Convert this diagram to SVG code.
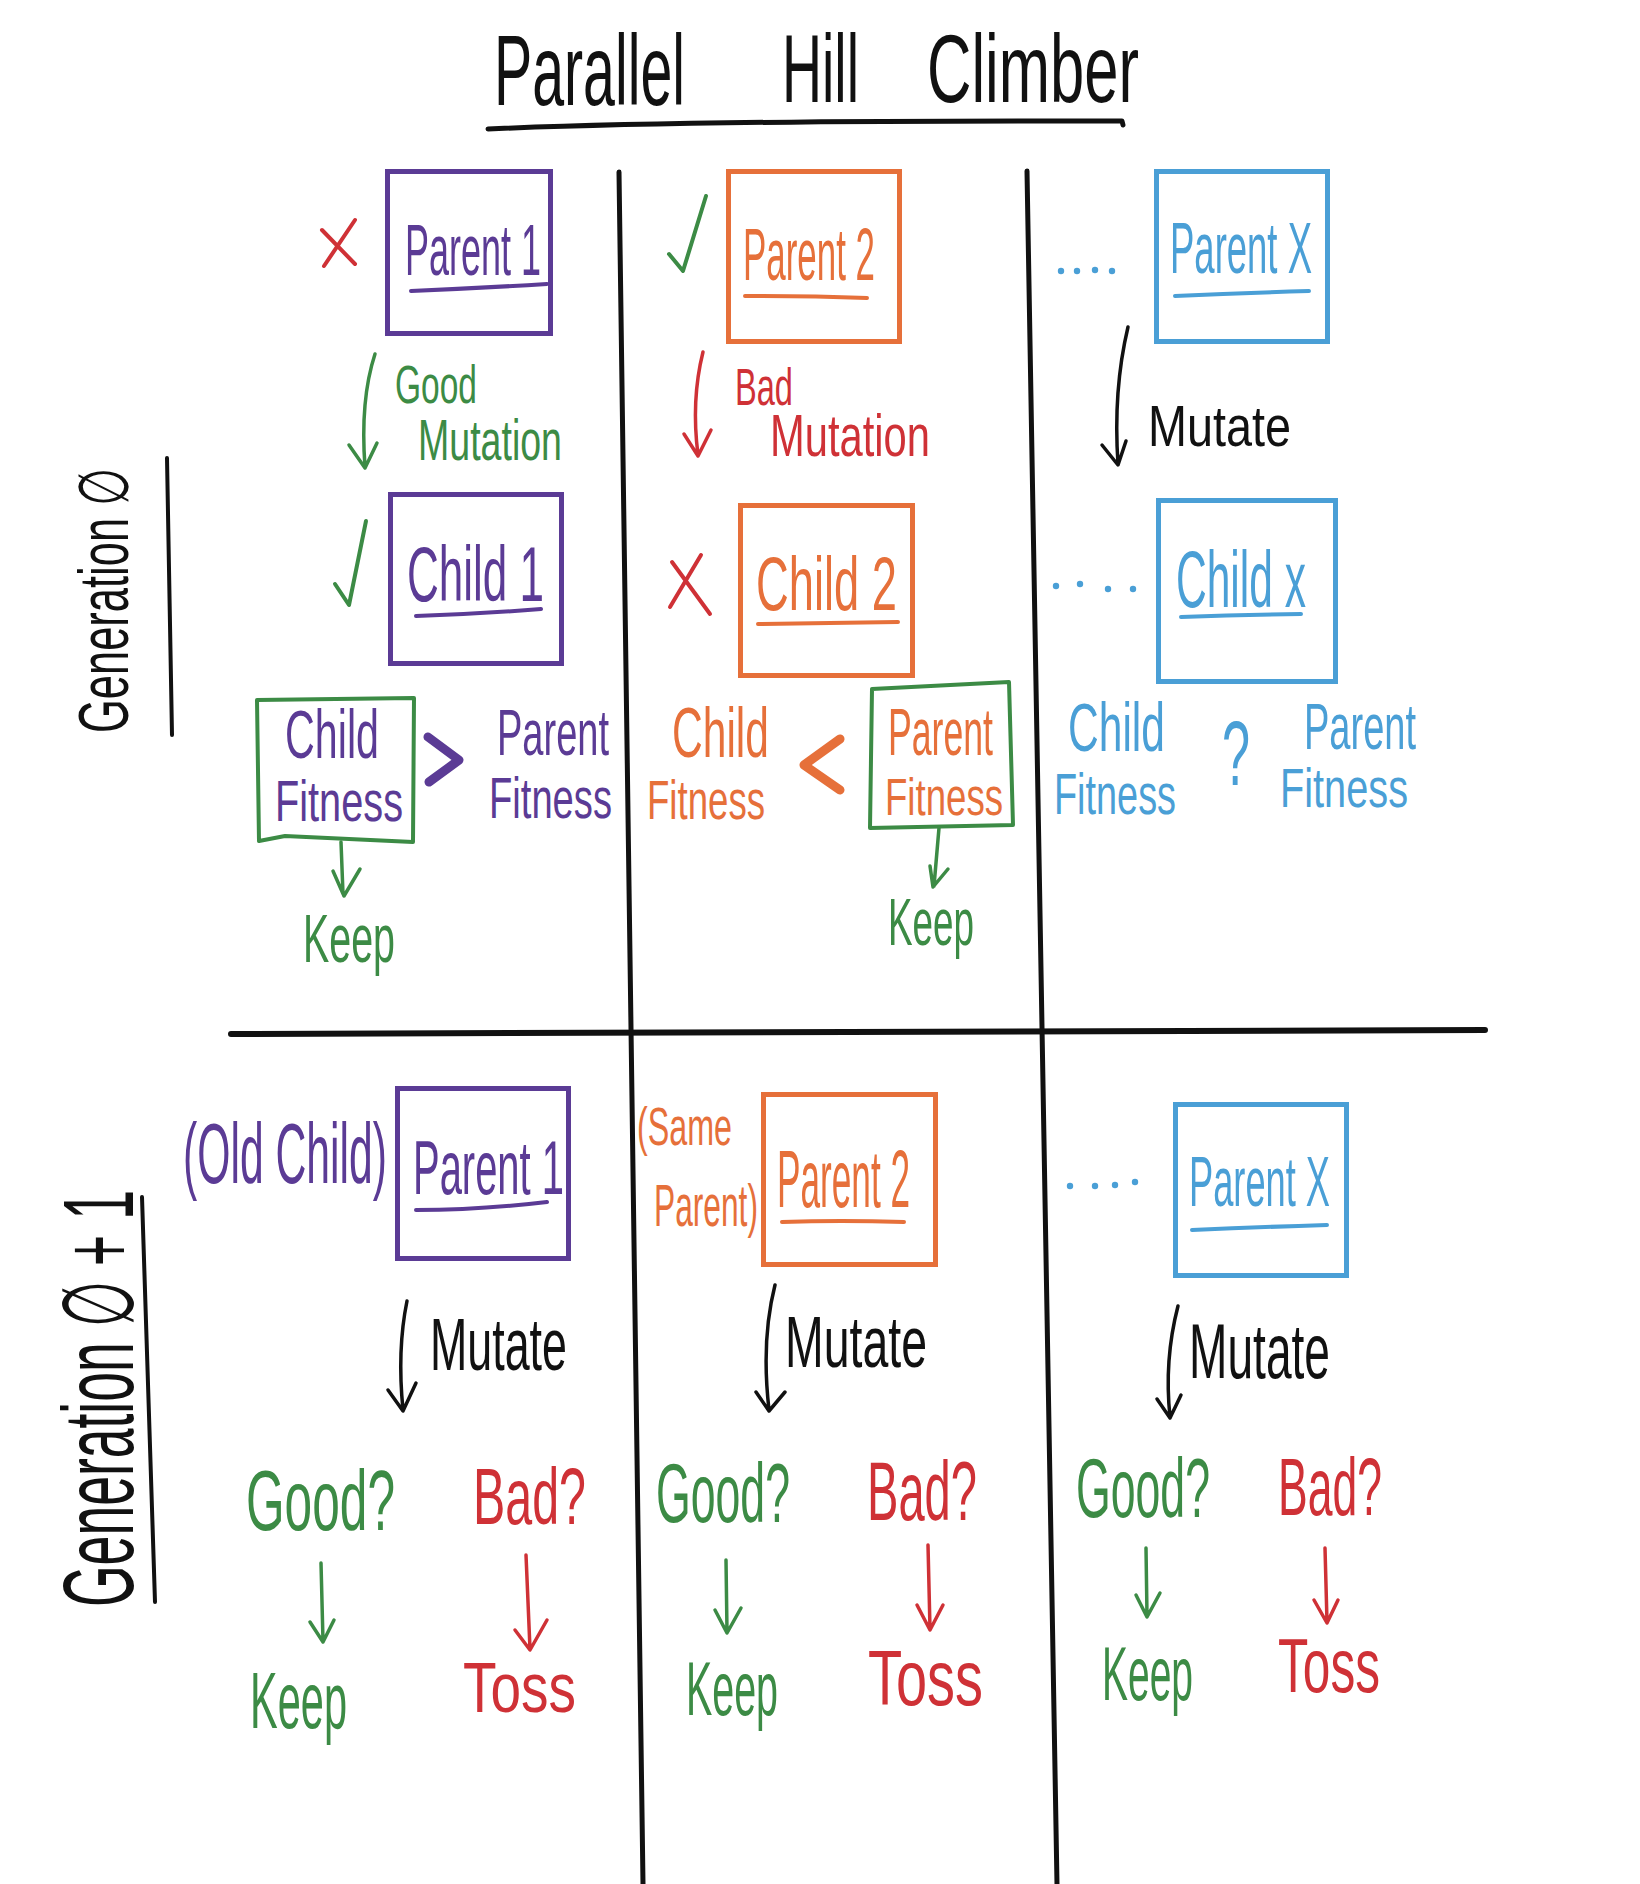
<svg xmlns="http://www.w3.org/2000/svg" width="1640" height="1884" viewBox="0 0 1640 1884">
<defs>
<style>
text{font-family:"Liberation Sans","DejaVu Sans",sans-serif;}
.pu{fill:#5b3b95}.or{fill:#e6703a}.bl{fill:#4a9fd6}.gr{fill:#3c8b45}.rd{fill:#cf3136}.bk{fill:#111}
.box{fill:none;stroke-width:5}
.spu{stroke:#5b3b95}.sor{stroke:#e6703a}.sbl{stroke:#4a9fd6}.sgr{stroke:#3c8b45}.srd{stroke:#cf3136}.sbk{stroke:#111}
.ln{fill:none;stroke-linecap:round;stroke-linejoin:round}
.ul{fill:none;stroke-width:4;stroke-linecap:round}
.arr{fill:none;stroke-width:3.5;stroke-linecap:round;stroke-linejoin:round}
</style>
</defs>
<rect width="1640" height="1884" fill="#fff"/>

<g id="title">
<text x="494" y="105" font-size="57.3" textLength="191" lengthAdjust="spacingAndGlyphs" transform="matrix(1 0 0 1.745 0 -78.2)" class="bk">Parallel</text>
<text x="782" y="102" font-size="55.5" textLength="77" lengthAdjust="spacingAndGlyphs" transform="matrix(1 0 0 1.730 0 -74.5)" class="bk">Hill</text>
<text x="927" y="102" font-size="61.6" textLength="212" lengthAdjust="spacingAndGlyphs" transform="matrix(1 0 0 1.559 0 -57.0)" class="bk">Climber</text>
<path class="ln sbk" stroke-width="5" d="M488,129 Q700,120 1122,121 L1123,125"/>
</g>

<g id="grid">
<path class="ln sbk" stroke-width="5" d="M619,172 L643,1884"/>
<path class="ln sbk" stroke-width="5" d="M1027,171 L1057,1884"/>
<path class="ln sbk" stroke-width="6" d="M231,1034 L1485,1030"/>
</g>

<g id="gen0-label">
<text transform="translate(128,733) rotate(-90) scale(1,1.584)" x="0" y="0" font-size="44.2" textLength="265" lengthAdjust="spacingAndGlyphs" class="bk">Generation ∅</text>
<path class="ln sbk" stroke-width="4" d="M167,458 L172,735"/>
</g>
<g id="gen1-label">
<text transform="translate(133,1607) rotate(-90) scale(1,1.852)" x="0" y="0" font-size="54" textLength="417" lengthAdjust="spacingAndGlyphs" class="bk">Generation ∅ + 1</text>
<path class="ln sbk" stroke-width="4" d="M142,1197 L155,1602"/>
</g>

<!-- Generation 0, column 1 -->
<g id="parent1-g0">
<rect class="box spu" x="387.5" y="171.5" width="163" height="162"/>
<text x="405" y="275" font-size="36" textLength="136" lengthAdjust="spacingAndGlyphs" transform="matrix(1 0 0 2 0 -275)" class="pu">Parent 1</text>
<path class="ul spu" d="M411,291 Q480,288 547,284"/>
</g>
<g id="x-parent1"><path class="ln srd" stroke-width="4" d="M322,230 L355,264 M355,220 L324,266"/></g>
<g id="good-mutation-label">
<text x="395" y="403" font-size="33.5" textLength="82" lengthAdjust="spacingAndGlyphs" transform="matrix(1 0 0 1.612 0 -246.6)" class="gr">Good</text>
<text x="418" y="460" font-size="37.5" textLength="144" lengthAdjust="spacingAndGlyphs" transform="matrix(1 0 0 1.547 0 -251.6)" class="gr">Mutation</text>
</g>
<g id="child1-g0">
<rect class="box spu" x="390.5" y="494.5" width="171" height="169"/>
<text x="407" y="601" font-size="44" textLength="137" lengthAdjust="spacingAndGlyphs" transform="matrix(1 0 0 1.773 0 -464.6)" class="pu">Child 1</text>
<path class="ul spu" d="M416,616 Q480,614 541,609"/>
</g>
<g id="check-child1"><path class="ln sgr" stroke-width="4" d="M335,584 L349,605 L366,521"/></g>
<g id="child-fitness-1">
<path class="ln sgr" stroke-width="4" d="M257,700 L414,698 L413,842 L285,836 L259,841 Z"/>
<text x="285" y="758" font-size="41.3" textLength="94" lengthAdjust="spacingAndGlyphs" transform="matrix(1 0 0 1.646 0 -489.7)" class="pu">Child</text>
<text x="275" y="821" font-size="39.7" textLength="128" lengthAdjust="spacingAndGlyphs" transform="matrix(1 0 0 1.461 0 -378.5)" class="pu">Fitness</text>
</g>
<g id="gt-1"><path class="ln spu" stroke-width="9" d="M428,737 L459,760 L429,782"/></g>
<g id="parent-fitness-1">
<text x="497" y="755" font-size="38" textLength="112" lengthAdjust="spacingAndGlyphs" transform="matrix(1 0 0 1.684 0 -516.4)" class="pu">Parent</text>
<text x="489" y="818" font-size="38.2" textLength="123" lengthAdjust="spacingAndGlyphs" transform="matrix(1 0 0 1.518 0 -423.7)" class="pu">Fitness</text>
</g>
<g id="keep-g0-1"><text x="303" y="962" font-size="39.4" textLength="92" lengthAdjust="spacingAndGlyphs" transform="matrix(1 0 0 1.726 0 -698.4)" class="gr">Keep</text></g>

<!-- Generation 0, column 2 -->
<g id="parent2-g0">
<rect class="box sor" x="728.5" y="171.5" width="171" height="170"/>
<text x="743" y="280" font-size="34.9" textLength="132" lengthAdjust="spacingAndGlyphs" transform="matrix(1 0 0 2.120 0 -313.6)" class="or">Parent 2</text>
<path class="ul sor" d="M745,296 Q810,296 867,298"/>
</g>
<g id="check-parent2"><path class="ln sgr" stroke-width="4" d="M669,254 L683,271 L706,196"/></g>
<g id="bad-mutation-label">
<text x="735" y="405" font-size="32.6" textLength="58" lengthAdjust="spacingAndGlyphs" transform="matrix(1 0 0 1.595 0 -241.0)" class="rd">Bad</text>
<text x="770" y="456" font-size="41.7" textLength="160" lengthAdjust="spacingAndGlyphs" transform="matrix(1 0 0 1.439 0 -200.2)" class="rd">Mutation</text>
</g>
<g id="child2-g0">
<rect class="box sor" x="740.5" y="505.5" width="172" height="170"/>
<text x="756" y="610" font-size="45.3" textLength="141" lengthAdjust="spacingAndGlyphs" transform="matrix(1 0 0 1.678 0 -413.6)" class="or">Child 2</text>
<path class="ul sor" d="M758,624 Q830,623 898,622"/>
</g>
<g id="x-child2"><path class="ln srd" stroke-width="4" d="M672,562 L710,614 M701,555 L670,607"/></g>
<g id="child-fitness-2">
<text x="672" y="757" font-size="42.6" textLength="97" lengthAdjust="spacingAndGlyphs" transform="matrix(1 0 0 1.643 0 -486.8)" class="or">Child</text>
<text x="647" y="819" font-size="36.6" textLength="118" lengthAdjust="spacingAndGlyphs" transform="matrix(1 0 0 1.530 0 -434.1)" class="or">Fitness</text>
</g>
<g id="lt-2"><path class="ln sor" stroke-width="9" d="M840,739 L804,765 L840,790"/></g>
<g id="parent-fitness-2">
<path class="ln sgr" stroke-width="4" d="M872,689 L1009,682 L1013,825 L870,828 Z"/>
<text x="888" y="755" font-size="35.6" textLength="105" lengthAdjust="spacingAndGlyphs" transform="matrix(1 0 0 1.854 0 -644.8)" class="or">Parent</text>
<text x="885" y="815" font-size="36.6" textLength="118" lengthAdjust="spacingAndGlyphs" transform="matrix(1 0 0 1.421 0 -343.1)" class="or">Fitness</text>
</g>
<g id="keep-g0-2"><text x="888" y="945" font-size="36.8" textLength="86" lengthAdjust="spacingAndGlyphs" transform="matrix(1 0 0 1.793 0 -749.4)" class="gr">Keep</text></g>

<!-- Generation 0, column 3 -->
<g id="dots-parentx-g0" class="bl">
<circle cx="1061" cy="271" r="3.2"/><circle cx="1077" cy="271" r="3.2"/><circle cx="1095" cy="270" r="3.2"/><circle cx="1112" cy="271" r="3.2"/>
</g>
<g id="parentx-g0">
<rect class="box sbl" x="1156.5" y="171.5" width="171" height="170"/>
<text x="1170" y="273" font-size="36.5" textLength="142" lengthAdjust="spacingAndGlyphs" transform="matrix(1 0 0 1.973 0 -265.6)" class="bl">Parent X</text>
<path class="ul sbl" d="M1175,296 Q1240,293 1309,291"/>
</g>
<g id="mutate-g0-3"><text x="1148" y="446" font-size="46.8" textLength="143" lengthAdjust="spacingAndGlyphs" transform="matrix(1 0 0 1.239 0 -106.6)" class="bk">Mutate</text></g>
<g id="dots-childx" class="bl">
<circle cx="1056" cy="586" r="3.2"/><circle cx="1080" cy="584" r="3.2"/><circle cx="1108" cy="589" r="3.2"/><circle cx="1133" cy="589" r="3.2"/>
</g>
<g id="childx-g0">
<rect class="box sbl" x="1158.5" y="500.5" width="177" height="181"/>
<text x="1176" y="607" font-size="42.5" textLength="130" lengthAdjust="spacingAndGlyphs" transform="matrix(1 0 0 1.882 0 -535.4)" class="bl">Child x</text>
<path class="ul sbl" d="M1181,617 Q1240,615 1301,614"/>
</g>
<g id="child-fitness-3">
<text x="1068" y="751" font-size="42.6" textLength="97" lengthAdjust="spacingAndGlyphs" transform="matrix(1 0 0 1.596 0 -447.6)" class="bl">Child</text>
<text x="1054" y="814" font-size="37.9" textLength="122" lengthAdjust="spacingAndGlyphs" transform="matrix(1 0 0 1.530 0 -431.4)" class="bl">Fitness</text>
</g>
<g id="q-3"><text x="1222" y="785" font-size="50.4" textLength="28" lengthAdjust="spacingAndGlyphs" transform="matrix(1 0 0 1.786 0 -617.0)" class="bl">?</text></g>
<g id="parent-fitness-3">
<text x="1304" y="749" font-size="38" textLength="112" lengthAdjust="spacingAndGlyphs" transform="matrix(1 0 0 1.684 0 -512.3)" class="bl">Parent</text>
<text x="1280" y="807" font-size="39.7" textLength="128" lengthAdjust="spacingAndGlyphs" transform="matrix(1 0 0 1.411 0 -331.7)" class="bl">Fitness</text>
</g>

<!-- Generation 1, column 1 -->
<g id="old-child-label"><text x="183" y="1183" font-size="42.7" textLength="204" lengthAdjust="spacingAndGlyphs" transform="matrix(1 0 0 2.014 0 -1199.6)" class="pu">(Old Child)</text></g>
<g id="parent1-g1">
<rect class="box spu" x="397.5" y="1088.5" width="171" height="170"/>
<text x="413" y="1194" font-size="39.9" textLength="151" lengthAdjust="spacingAndGlyphs" transform="matrix(1 0 0 1.905 0 -1080.6)" class="pu">Parent 1</text>
<path class="ul spu" d="M416,1210 Q480,1210 547,1202"/>
</g>
<g id="mutate-g1-1"><text x="430" y="1370" font-size="44.8" textLength="137" lengthAdjust="spacingAndGlyphs" transform="matrix(1 0 0 1.652 0 -893.2)" class="bk">Mutate</text></g>
<g id="good-g1-1"><text x="246" y="1530" font-size="49.6" textLength="149" lengthAdjust="spacingAndGlyphs" transform="matrix(1 0 0 1.734 0 -1123.0)" class="gr">Good?</text></g>
<g id="bad-g1-1"><text x="473" y="1524" font-size="48.4" textLength="113" lengthAdjust="spacingAndGlyphs" transform="matrix(1 0 0 1.653 0 -995.2)" class="rd">Bad?</text></g>
<g id="keep-g1-1"><text x="250" y="1728" font-size="41.5" textLength="97" lengthAdjust="spacingAndGlyphs" transform="matrix(1 0 0 1.928 0 -1603.6)" class="gr">Keep</text></g>
<g id="toss-g1-1"><text x="463" y="1712" font-size="52.1" textLength="113" lengthAdjust="spacingAndGlyphs" transform="matrix(1 0 0 1.344 0 -588.9)" class="rd">Toss</text></g>

<!-- Generation 1, column 2 -->
<g id="same-parent-label">
<text x="637" y="1145" font-size="32.3" textLength="95" lengthAdjust="spacingAndGlyphs" transform="matrix(1 0 0 1.672 0 -769.4)" class="or">(Same</text>
<text x="654" y="1226" font-size="31.7" textLength="104" lengthAdjust="spacingAndGlyphs" transform="matrix(1 0 0 1.893 0 -1094.8)" class="or">Parent)</text>
</g>
<g id="parent2-g1">
<rect class="box sor" x="763.5" y="1094.5" width="172" height="170"/>
<text x="777" y="1207" font-size="35.2" textLength="133" lengthAdjust="spacingAndGlyphs" transform="matrix(1 0 0 2.330 0 -1605.3)" class="or">Parent 2</text>
<path class="ul sor" d="M782,1222 Q840,1220 904,1222"/>
</g>
<g id="mutate-g1-2"><text x="785" y="1367" font-size="46.5" textLength="142" lengthAdjust="spacingAndGlyphs" transform="matrix(1 0 0 1.548 0 -749.1)" class="bk">Mutate</text></g>
<g id="good-g1-2"><text x="656" y="1522" font-size="44.6" textLength="134" lengthAdjust="spacingAndGlyphs" transform="matrix(1 0 0 1.883 0 -1343.9)" class="gr">Good?</text></g>
<g id="bad-g1-2"><text x="867" y="1520" font-size="47.1" textLength="110" lengthAdjust="spacingAndGlyphs" transform="matrix(1 0 0 1.783 0 -1190.2)" class="rd">Bad?</text></g>
<g id="keep-g1-2"><text x="686" y="1715" font-size="39.4" textLength="92" lengthAdjust="spacingAndGlyphs" transform="matrix(1 0 0 1.929 0 -1593.2)" class="gr">Keep</text></g>
<g id="toss-g1-2"><text x="868" y="1705" font-size="53.1" textLength="115" lengthAdjust="spacingAndGlyphs" transform="matrix(1 0 0 1.469 0 -799.6)" class="rd">Toss</text></g>

<!-- Generation 1, column 3 -->
<g id="dots-parentx-g1" class="bl">
<circle cx="1070" cy="1186" r="3.2"/><circle cx="1095" cy="1186" r="3.2"/><circle cx="1115" cy="1185" r="3.2"/><circle cx="1135" cy="1182" r="3.2"/>
</g>
<g id="parentx-g1">
<rect class="box sbl" x="1175.5" y="1104.5" width="171" height="171"/>
<text x="1189" y="1206" font-size="36.2" textLength="141" lengthAdjust="spacingAndGlyphs" transform="matrix(1 0 0 1.934 0 -1126.4)" class="bl">Parent X</text>
<path class="ul sbl" d="M1192,1230 Q1260,1227 1327,1225"/>
</g>
<g id="mutate-g1-3"><text x="1189" y="1378" font-size="46.1" textLength="141" lengthAdjust="spacingAndGlyphs" transform="matrix(1 0 0 1.692 0 -953.6)" class="bk">Mutate</text></g>
<g id="good-g1-3"><text x="1076" y="1517" font-size="44.6" textLength="134" lengthAdjust="spacingAndGlyphs" transform="matrix(1 0 0 1.883 0 -1339.5)" class="gr">Good?</text></g>
<g id="bad-g1-3"><text x="1278" y="1515" font-size="44.5" textLength="104" lengthAdjust="spacingAndGlyphs" transform="matrix(1 0 0 1.843 0 -1277.1)" class="rd">Bad?</text></g>
<g id="keep-g1-3"><text x="1102" y="1700" font-size="39" textLength="91" lengthAdjust="spacingAndGlyphs" transform="matrix(1 0 0 1.949 0 -1613.3)" class="gr">Keep</text></g>
<g id="toss-g1-3"><text x="1278" y="1692" font-size="47.1" textLength="102" lengthAdjust="spacingAndGlyphs" transform="matrix(1 0 0 1.614 0 -1038.9)" class="rd">Toss</text></g>

<g id="connectors">
<path class="arr sgr" d="M375,354 Q360,400 365,467 M349,445 L365,468 L377,443"/>
<path class="arr sgr" d="M341,842 L343,894 M333,871 L344,896 L360,869"/>
<path class="arr srd" d="M703,352 Q691,400 698,455 M684,434 L698,456 L711,430"/>
<path class="arr sgr" d="M939,828 L934,886 M930,866 L933,887 L948,869"/>
<path class="arr sbk" d="M1128,327 Q1113,390 1118,464 M1102,445 L1118,465 L1126,441"/>
<path class="arr sbk" d="M407,1301 Q397,1350 403,1410 M388,1390 L403,1411 L416,1383"/>
<path class="arr sbk" d="M775,1285 Q761,1340 769,1410 M756,1392 L769,1411 L785,1392"/>
<path class="arr sbk" d="M1178,1306 Q1164,1360 1170,1417 M1157,1399 L1170,1418 L1181,1395"/>
<path class="arr sgr" d="M321,1563 L323,1641 M310,1622 L323,1642 L334,1620"/>
<path class="arr srd" d="M526,1555 L530,1649 M515,1630 L530,1650 L547,1620"/>
<path class="arr sgr" d="M726,1560 L727,1632 M715,1610 L727,1633 L741,1608"/>
<path class="arr srd" d="M928,1545 L930,1629 M917,1605 L930,1630 L943,1605"/>
<path class="arr sgr" d="M1146,1548 L1147,1616 M1136,1595 L1147,1617 L1160,1593"/>
<path class="arr srd" d="M1325,1548 L1327,1622 M1314,1600 L1327,1623 L1338,1600"/>
</g>
</svg>
